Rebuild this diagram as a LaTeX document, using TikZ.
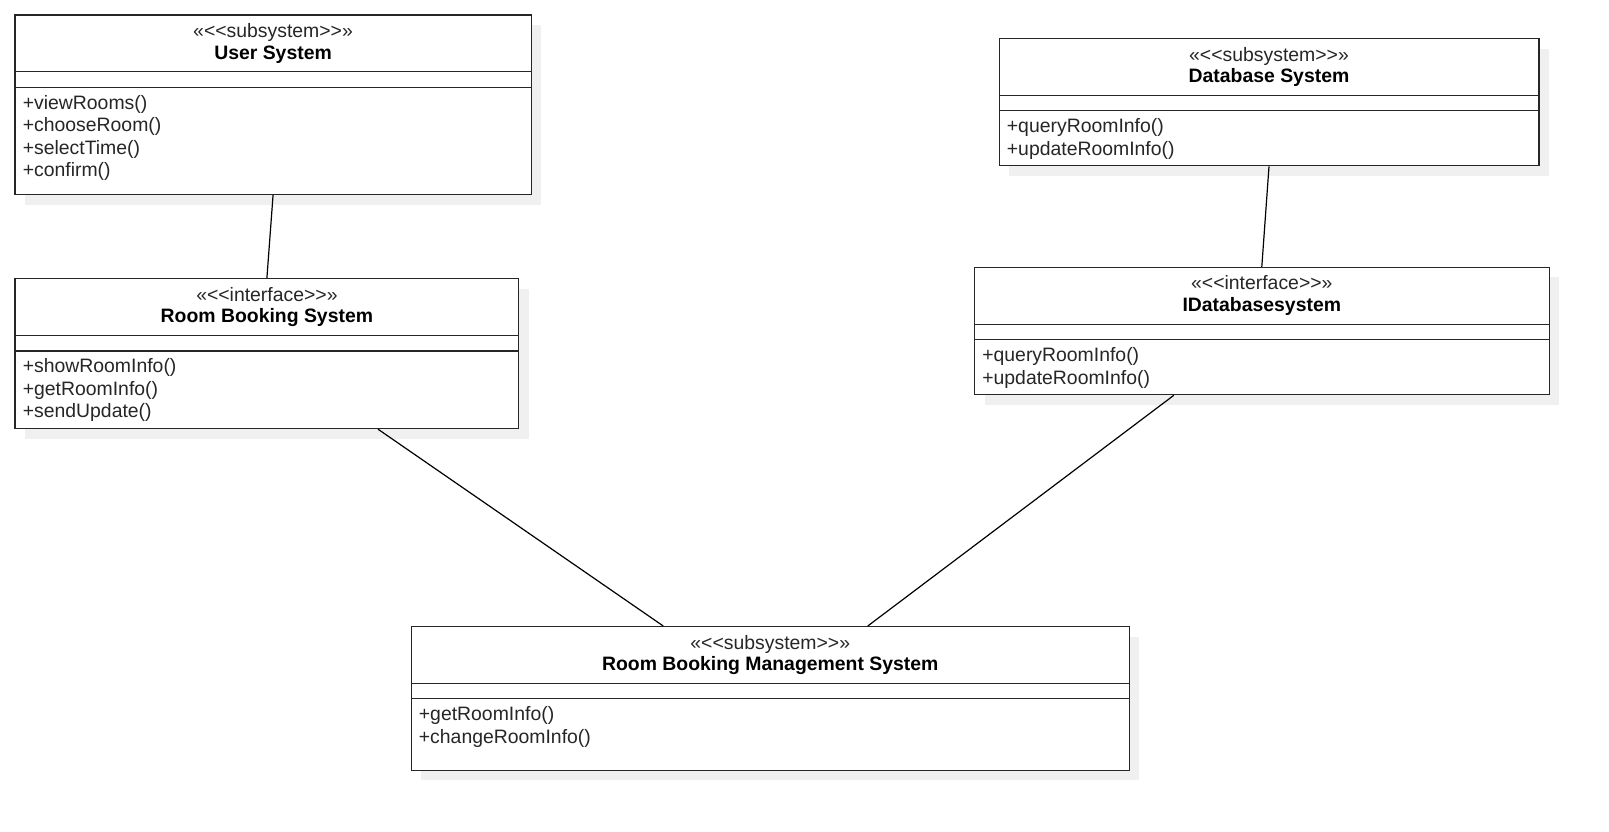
\documentclass[tikz,border=0pt]{standalone}
\usepackage{fontspec}
\setmainfont{Liberation Sans}
\usetikzlibrary{shadows}
\tikzset{
  cls/.style={draw=black!85, line width=1.2pt, fill=white, rectangle, inner sep=0pt, anchor=north west,
    drop shadow={shadow xshift=10pt, shadow yshift=-10pt, fill=black!6, opacity=1}},
  divider/.style={draw=black!85, line width=1.2pt},
  stereo/.style={font=\fontsize{19.4}{22.6}\selectfont, text=black!85, inner sep=0pt, anchor=mid},
  cname/.style={font=\fontsize{19.4}{22.6}\selectfont\bfseries, inner sep=0pt, anchor=mid},
  meth/.style={font=\fontsize{19.4}{22.6}\selectfont, text=black!85, inner sep=0pt, anchor=mid west},
  link/.style={draw=black, line width=1.2pt},
}
% name, x, y, w, h, stereotype, title, methods
\newcommand\umlclass[8]{%
  \node[cls, minimum width=#4pt, minimum height=#5pt] (#1) at (#2,#3) {};
  \draw[divider] ([yshift=-57.4pt]#1.north west) -- ([yshift=-57.4pt]#1.north east);
  \draw[divider] ([yshift=-72.8pt]#1.north west) -- ([yshift=-72.8pt]#1.north east);
  \node[stereo] (#1-st) at ([yshift=-20.4pt]#1.north) {«<{}<#6>{}>»};
  \node[cname] (#1-nm) at ([yshift=-42pt]#1.north) {#7};
  \foreach \m [count=\i] in {#8} {
    \node[meth] (#1-m\i) at ([xshift=8.2pt, yshift={-(92.0+(\i-1)*22.6)*1pt}]#1.north west) {\m};
  }
}
\begin{document}
\begin{tikzpicture}[x=1pt, y=-1pt]
  \useasboundingbox (0,0) rectangle (1609,831);
  \umlclass{us}{14.4}{14.4}{516.1}{179.6}{subsystem}{User System}{+viewRooms(),+chooseRoom(),+selectTime(),+confirm()}
  \umlclass{rbs}{14.4}{278.1}{503.8}{149.8}{interface}{Room Booking System}{+showRoomInfo(),+getRoomInfo(),+sendUpdate()}
  \umlclass{db}{998.5}{38.0}{539.8}{127.2}{subsystem}{Database System}{+queryRoomInfo(),+updateRoomInfo()}
  \umlclass{idb}{973.9}{266.8}{574.6}{127.3}{interface}{IDatabasesystem}{+queryRoomInfo(),+updateRoomInfo()}
  \umlclass{rbms}{410.5}{626.0}{718.3}{143.7}{subsystem}{Room Booking Management System}{+getRoomInfo(),+changeRoomInfo()}
  \draw[link] (us.south) -- (rbs.north);
  \draw[link] (db.south) -- (idb.north);
  \draw[link] ([xshift=111pt]rbs.south) -- ([xshift=-107pt]rbms.north);
  \draw[link] ([xshift=-88pt]idb.south) -- ([xshift=97.5pt]rbms.north);
\end{tikzpicture}
\end{document}
